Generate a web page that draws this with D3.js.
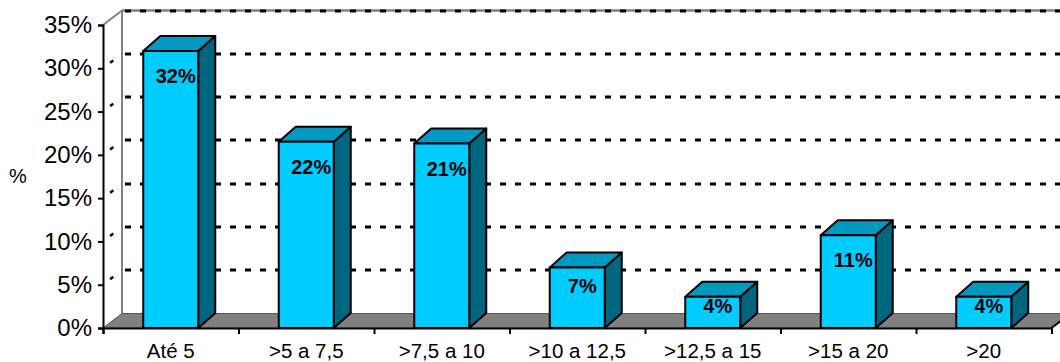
<!DOCTYPE html>
<html>
<head>
<meta charset="utf-8">
<script src="https://cdn.jsdelivr.net/npm/d3@7"></script>
<style>
  body { margin: 0; background: #fff; }
  svg { display: block; font-family: "Liberation Sans", Arial, sans-serif; }
</style>
</head>
<body>
<div id="chart"></div>
<script>
// values
const categories = ["Até 5", ">5 a 7,5", ">7,5 a 10", ">10 a 12,5", ">12,5 a 15", ">15 a 20", ">20"];
const values = [32.0, 21.5, 21.3, 7.0, 3.6, 10.7, 3.6];
const valueLabels = ["32%", "22%", "21%", "7%", "4%", "11%", "4%"];
const yTicks = [0, 5, 10, 15, 20, 25, 30, 35];

const width = 1060, height = 362;
const plot = {left: 103, right: 1051.5, top: 25, bottom: 328};
const wall = {dx: 19, dy: -14.5};   // depth of walls / floor
const box = {dx: 17, dy: -15};      // depth of bars

const svg = d3.select("#chart")
    .append("svg")
    .attr("width", width)
    .attr("height", height);

const x = d3.scaleBand()
    .domain(categories)
    .range([plot.left, plot.right])
    .paddingInner(0.594)
    .paddingOuter(0.297);

const xEdges = d3.scaleLinear()
    .domain([0, categories.length])
    .range([plot.left, plot.right]);

const y = d3.scaleLinear()
    .domain([0, 35])
    .range([plot.bottom, plot.top]);

const gray = "#808080";

// back wall edges
svg.append("line")
    .attr("x1", plot.left + wall.dx).attr("x2", plot.left + wall.dx)
    .attr("y1", y(35) + wall.dy).attr("y2", y(0) + wall.dy)
    .attr("stroke", gray).attr("stroke-width", 2);
svg.append("line")
    .attr("x1", plot.left + wall.dx).attr("x2", plot.right + wall.dx + 20)
    .attr("y1", y(35) + wall.dy).attr("y2", y(35) + wall.dy)
    .attr("stroke", gray).attr("stroke-width", 2.5);
svg.append("line")
    .attr("x1", plot.left).attr("x2", plot.left + wall.dx)
    .attr("y1", y(35)).attr("y2", y(35) + wall.dy)
    .attr("stroke", gray).attr("stroke-width", 2);

// dashed gridlines on side wall and back wall
const grid = svg.append("g")
    .attr("stroke", "#000")
    .attr("stroke-width", 3)
    .attr("stroke-dasharray", "6,9")
    .attr("fill", "none");

grid.selectAll(".back")
    .data(yTicks.filter(d => d > 0))
    .enter()
    .append("line")
    .attr("stroke-dashoffset", -3)
    .attr("x1", plot.left + wall.dx)
    .attr("x2", plot.right + wall.dx + 20)
    .attr("y1", d => Math.round(y(d) + wall.dy))
    .attr("y2", d => Math.round(y(d) + wall.dy));

grid.selectAll(".side")
    .data(yTicks.filter(d => d > 0 && d < 35))
    .enter()
    .append("line")
    .attr("stroke-width", 2.5)
    .attr("stroke-dasharray", "4,20")
    .attr("stroke-dashoffset", -9)
    .attr("x1", plot.left)
    .attr("x2", plot.left + wall.dx)
    .attr("y1", d => y(d))
    .attr("y2", d => y(d) + wall.dy);

// floor
svg.append("polygon")
    .attr("points", [
        [plot.left, y(0)],
        [plot.left + wall.dx, y(0) + wall.dy],
        [plot.right + wall.dx, y(0) + wall.dy],
        [plot.right, y(0)]
    ].join(" "))
    .attr("fill", gray)
    .attr("stroke", "#555")
    .attr("stroke-width", 1);
svg.append("line")
    .attr("x1", plot.right).attr("y1", y(0))
    .attr("x2", plot.right + wall.dx).attr("y2", y(0) + wall.dy)
    .attr("stroke", "#000").attr("stroke-width", 2);

// bars
const barData = values.map((v, i) => ({cat: categories[i], value: v, label: valueLabels[i]}));

const bars = svg.selectAll(".bar")
    .data(barData)
    .enter()
    .append("g")
    .attr("class", "bar")
    .attr("stroke", "#000")
    .attr("stroke-width", 2)
    .attr("stroke-linejoin", "round");

bars.append("polygon")
    .attr("fill", "#006680")
    .attr("points", d => {
        const x1 = x(d.cat) + x.bandwidth(), t = y(d.value), b = y(0);
        return [[x1, b], [x1 + box.dx, b + box.dy], [x1 + box.dx, t + box.dy], [x1, t]].join(" ");
    });

bars.append("polygon")
    .attr("fill", "#0099bf")
    .attr("points", d => {
        const x0 = x(d.cat), x1 = x0 + x.bandwidth(), t = y(d.value);
        return [[x0, t], [x0 + box.dx, t + box.dy], [x1 + box.dx, t + box.dy], [x1, t]].join(" ");
    });

bars.append("rect")
    .attr("fill", "#00ccff")
    .attr("x", d => x(d.cat))
    .attr("y", d => y(d.value))
    .attr("width", x.bandwidth())
    .attr("height", d => y(0) - y(d.value));

// value labels
svg.selectAll(".vlabel")
    .data(barData)
    .enter()
    .append("text")
    .attr("class", "vlabel")
    .attr("x", d => x(d.cat) + x.bandwidth() / 2 + 5)
    .attr("y", d => y(d.value) + Math.min(25, (y(0) - y(d.value)) * 0.3))
    .attr("dy", "0.35em")
    .attr("text-anchor", "middle")
    .style("font-size", "20px")
    .style("font-weight", "bold")
    .text(d => d.label);

// y axis
const yAxis = svg.append("g")
    .attr("transform", `translate(${plot.left},0)`)
    .call(d3.axisLeft(y)
        .tickValues(yTicks)
        .tickSize(5)
        .tickPadding(6)
        .tickFormat(d => d + "%"));
yAxis.select(".domain").attr("stroke", "#000").attr("stroke-width", 2);
yAxis.selectAll(".tick line").attr("stroke", "#000").attr("stroke-width", 2);
yAxis.selectAll("text")
    .style("font-size", "24px")
    .style("font-family", "'Liberation Sans', Arial, sans-serif")
    .attr("fill", "#000");

// x axis: boundary ticks + centred labels
const xTicks = svg.append("g")
    .attr("transform", `translate(0,${plot.bottom})`)
    .call(d3.axisBottom(xEdges)
        .ticks(categories.length)
        .tickSizeOuter(0)
        .tickSize(6)
        .tickFormat(""));
xTicks.select(".domain").attr("stroke", "#000").attr("stroke-width", 2);
xTicks.selectAll(".tick line").attr("stroke", "#000").attr("stroke-width", 2);

const xLabels = svg.append("g")
    .attr("transform", `translate(0,${plot.bottom})`)
    .call(d3.axisBottom(x).tickSize(0).tickPadding(15));
xLabels.select(".domain").remove();
xLabels.selectAll("text")
    .style("font-size", "20.5px")
    .style("font-family", "'Liberation Sans', Arial, sans-serif")
    .attr("fill", "#000");

// axis title
svg.append("text")
    .attr("x", 18)
    .attr("y", 176)
    .attr("dy", "0.35em")
    .attr("text-anchor", "middle")
    .style("font-size", "20px")
    .text("%");
</script>
</body>
</html>
